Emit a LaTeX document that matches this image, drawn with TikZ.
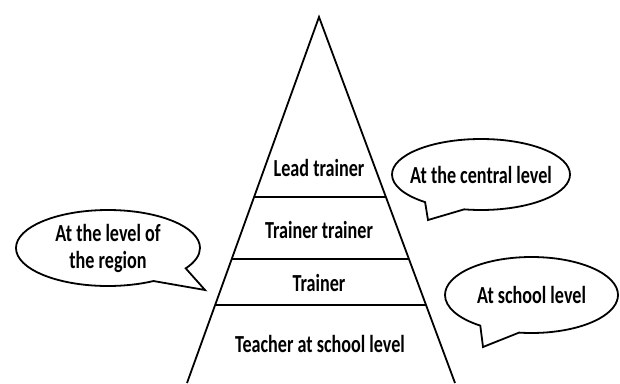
\documentclass[tikz,border=0pt]{standalone}
\usepackage{fontspec}
\setmainfont{Carlito}[FakeStretch=0.74]
\usetikzlibrary{calc,shapes.callouts}
\tikzset{
  level/.style={font=\fontsize{24.5}{27}\selectfont\bfseries, anchor=base},
  bubble/.style={ellipse callout, draw, fill=white, inner sep=-14pt,
    callout pointer arc=28, align=center,
    font=\fontsize{24.5}{27}\selectfont\bfseries}
}
\begin{document}
\begin{tikzpicture}[x=1pt,y=-1pt,line width=1.8pt]
\useasboundingbox (0,0) rectangle (620,383);
% pyramid
\coordinate (apex) at (319,17);
\coordinate (bl) at (187,383);
\coordinate (br) at (455,383);
\draw (bl) -- (apex) -- (br);
\foreach \t in {0.492,0.661,0.787}
  \draw ($(apex)!\t!(bl)$) -- ($(apex)!\t!(br)$);
\node[level] (lead) at (319,176) {Lead trainer};
\node[level] (trtr) at (319,238) {Trainer trainer};
\node[level] (trainer) at (319,291) {Trainer};
\node[level] (teacher) at (320,352) {Teacher at school level};
% bubbles
\coordinate (ctip) at (428,220);
\coordinate (rtip) at (205,290);
\coordinate (stip) at (483,347);
\node[bubble, minimum width=178pt, minimum height=71pt,
  callout absolute pointer=(ctip)] (central) at (481,174.5) {At the central level};
\node[bubble, minimum width=184pt, minimum height=76pt,
  callout absolute pointer=(rtip)] (region) at (108,248) {At the level of\\the region};
\node[bubble, minimum width=173pt, minimum height=76pt,
  callout absolute pointer=(stip)] (school) at (531.5,295) {At school level};
\end{tikzpicture}
\end{document}
